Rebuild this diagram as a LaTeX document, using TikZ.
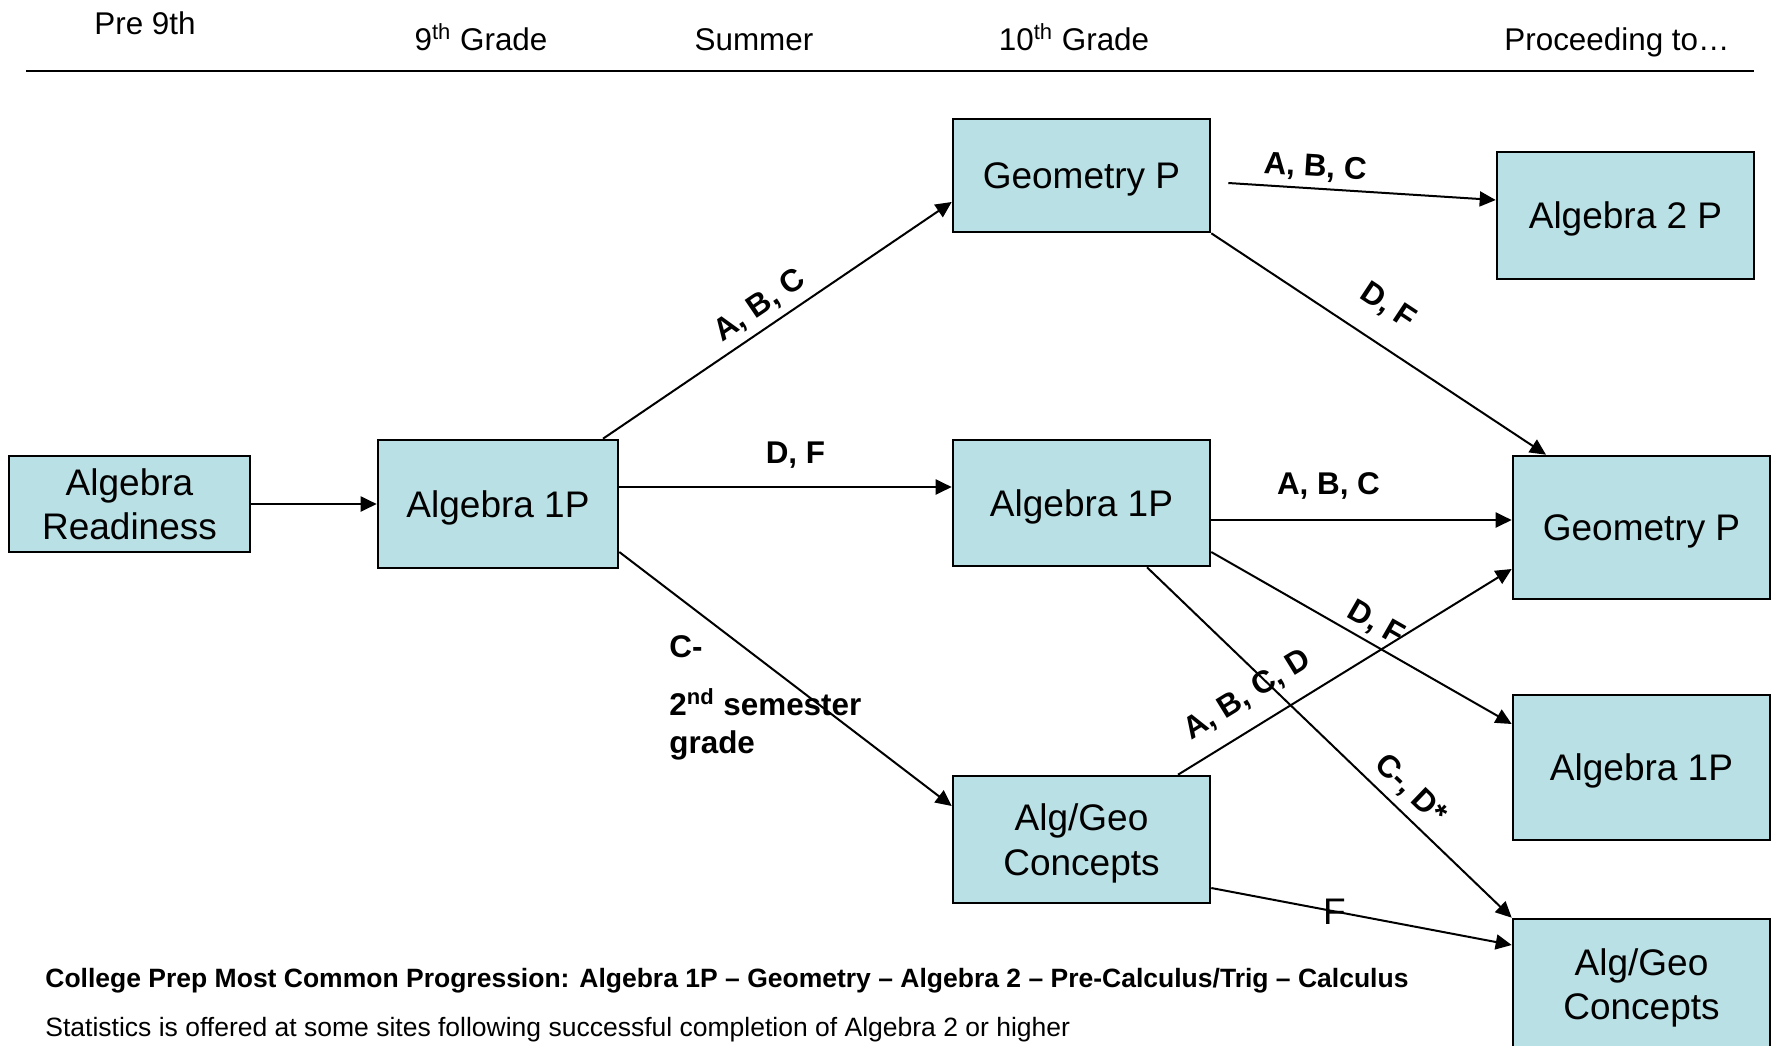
\documentclass[tikz,border=0pt]{standalone}
\usepackage{fontspec}
\setmainfont{Liberation Sans}
\usetikzlibrary{arrows.meta,calc}
\definecolor{boxfill}{RGB}{185,224,228}
\begin{document}
\begin{tikzpicture}[x=0.5pt,y=-0.5pt,
  box/.style={draw=black, fill=boxfill, line width=1.3pt, align=center, inner sep=0pt, text depth=0pt, font=\fontsize{18.5}{22.2}\selectfont},
  arr/.style={-{Triangle[length=8pt,width=7.5pt]}, line width=1pt},
  lbl/.style={inner sep=0pt, font=\bfseries\fontsize{15.7}{18.8}\selectfont},
  hdr/.style={inner sep=0pt, anchor=base, font=\fontsize{15.7}{18.8}\selectfont},
  foot/.style={inner sep=0pt, anchor=base west, font=\fontsize{13.25}{16}\selectfont}]
\useasboundingbox (0,0) rectangle (1773,1045);

% header
\node[hdr] (h0) at (145,34) {Pre 9th};
\node[hdr] (h1) at (481,50) {9\textsuperscript{th} Grade};
\node[hdr] (h2) at (754,50) {Summer};
\node[hdr] (h3) at (1074,50) {10\textsuperscript{th} Grade};
\node[hdr] (h4) at (1617,50) {Proceeding to…};
\coordinate (hl) at (26,71);
\coordinate (hr) at (1754,71);
\draw[line width=1.4pt] (hl) -- (hr);

% boxes
\node[box, minimum width=120.5pt, minimum height=48pt] (AR) at (129.5,504) {Algebra\\Readiness};
\node[box, minimum width=120pt, minimum height=64pt] (A1) at (498,504) {Algebra 1P};
\node[box, minimum width=128.5pt, minimum height=56.5pt] (G1) at (1081.5,175.5) {Geometry P};
\node[box, minimum width=128.5pt, minimum height=63pt] (A2) at (1081.5,503) {Algebra 1P};
\node[box, minimum width=128.5pt, minimum height=63.5pt] (C1) at (1081.5,839.5) {Alg/Geo\\Concepts};
\node[box, minimum width=128.5pt, minimum height=63.5pt] (B2) at (1625.5,215.5) {Algebra 2 P};
\node[box, minimum width=128.5pt, minimum height=71.5pt] (GR) at (1641.5,527.5) {Geometry P};
\node[box, minimum width=128.5pt, minimum height=72.5pt] (R1) at (1641.5,767.5) {Algebra 1P};
\node[box, minimum width=128.5pt, minimum height=65pt] (CR) at (1641.5,984) {Alg/Geo\\Concepts};

% arrows
\draw[arr] (AR.east) -- (A1.west);
\draw[arr] ($(A1.north)+(105,0)$) -- node[lbl, pos=0.485, sloped, above=3.6pt] {A, B, C} ($(G1.west)+(0,26.5)$);
\draw[arr] ($(A1.east)+(0,-17)$) -- node[lbl, pos=0.53, above=9pt] {D, F} ($(A2.west)+(0,-16)$);
\draw[arr] ($(A1.east)+(0,48)$) -- ($(C1.west)+(0,-33.5)$);
\draw[arr] ($(G1.east)+(17,7.5)$) -- node[lbl, pos=0.32, sloped, above=3pt] {A, B, C} ($(B2.west)+(0,-15.5)$);
\draw[arr] (G1.south east) -- node[lbl, pos=0.467, sloped, above=11pt] {D, F} ($(GR.north)+(-95.5,0)$);
\draw[arr] ($(A2.east)+(0,17)$) -- node[lbl, pos=0.39, above=9.6pt] {A, B, C} ($(GR.west)+(0,-7.5)$);
\draw[arr] ($(A2.east)+(0,49)$) -- node[lbl, pos=0.514, sloped, above=2.6pt] {D, F} ($(R1.west)+(0,-43.5)$);
\draw[arr] ($(A2.south)+(65.5,0)$) -- node[lbl, pos=0.68, sloped, above=3.7pt] {C-, D*} (CR.north west);
\draw[arr] ($(C1.north)+(96.5,0)$) -- node[lbl, pos=0.257, sloped, above=8.4pt] {A, B, C, D} ($(GR.west)+(0,41.5)$);
\draw[arr] ($(C1.east)+(0,48.5)$) -- node[pos=0.41, inner sep=0pt, font=\fontsize{18.5}{22}\selectfont] {F} ($(CR.west)+(0,-39)$);

% side note
\node[lbl, anchor=base west] (cm) at (669,657) {C-};
\node[lbl, anchor=base west] (sem) at (669,715) {2\textsuperscript{nd} semester};
\node[lbl, anchor=base west] (grd) at (669,753) {grade};

% footer
\node[foot, font=\bfseries\fontsize{13.25}{16}\selectfont] (prog) at (45,987) {College Prep Most Common Progression: Algebra 1P – Geometry – Algebra 2 – Pre-Calculus/Trig – Calculus};
\node[foot] (stat) at (45,1036) {Statistics is offered at some sites following successful completion of Algebra 2 or higher};
\end{tikzpicture}
\end{document}
